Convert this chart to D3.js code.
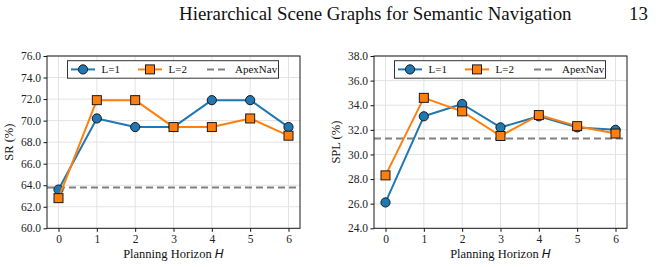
<!DOCTYPE html>
<html>
<head>
<meta charset="utf-8">
<script src="https://cdn.jsdelivr.net/npm/d3@7"></script>
<style>
  body { margin: 0; background: white; }
  svg { display: block; }
</style>
</head>
<body>
<div id="chart"></div>
<script>
// data
var horizons = [0, 1, 2, 3, 4, 5, 6]

var srL1 = [63.6, 70.2, 69.4, 69.4, 71.9, 71.9, 69.4]
var srL2 = [62.8, 71.9, 71.9, 69.4, 69.4, 70.2, 68.6]
var srApexNav = 63.8
var srTicks = [60, 62, 64, 66, 68, 70, 72, 74, 76]

var splL1 = [26.1, 33.1, 34.1, 32.2, 33.1, 32.2, 32.0]
var splL2 = [28.3, 34.6, 33.5, 31.5, 33.2, 32.3, 31.7]
var splApexNav = 31.3
var splTicks = [24, 26, 28, 30, 32, 34, 36, 38]

var legendLabels = ['L=1', 'L=2', 'ApexNav']
var headerText = 'Hierarchical Scene Graphs for Semantic Navigation'
var pageNumber = '13'

var blue = '#1f77b4'
var orange = '#ff7f0e'
var grey = '#808080'
var serif = '"Liberation Serif", "Times New Roman", Times, serif'

var svg = d3.select('#chart').append('svg')
  .attr('width', 667)
  .attr('height', 267)
  .attr('font-family', serif)
  .style('font-family', serif)

// running header, sized so it spans the same width as the original
var header = svg.append('text')
  .attr('x', 179)
  .attr('y', 20)
  .style('font-family', serif)
  .style('font-size', '17px')
  .style('fill', '#111')
  .text(headerText)

var hw = header.node().getComputedTextLength()
var hSize = 17 * 393 / hw
header.style('font-size', hSize + 'px')

svg.append('text')
  .attr('x', 629)
  .attr('y', 20)
  .style('font-family', serif)
  .style('font-size', hSize + 'px')
  .style('fill', '#111')
  .text(pageNumber)

function drawPanel(opts) {
  var g = svg.append('g')
  var x0 = opts.left, x1 = opts.left + 253
  var y0 = 56, y1 = 228.3

  var xMap = d3.scaleLinear().domain([-0.3, 6.3]).range([x0, x1])
  var yMap = d3.scaleLinear().domain(opts.domain).range([y1, y0])

  // grid
  g.append('g').selectAll('line').data(horizons).enter().append('line')
    .attr('x1', d => xMap(d)).attr('x2', d => xMap(d))
    .attr('y1', y0).attr('y2', y1)
    .style('stroke', '#e3e3e3').style('stroke-width', 1)

  g.append('g').selectAll('line').data(opts.ticks).enter().append('line')
    .attr('x1', x0).attr('x2', x1)
    .attr('y1', d => yMap(d)).attr('y2', d => yMap(d))
    .style('stroke', '#e3e3e3').style('stroke-width', 1)

  // baseline method
  g.append('line')
    .attr('x1', x0).attr('x2', x1)
    .attr('y1', yMap(opts.apex)).attr('y2', yMap(opts.apex))
    .style('stroke', grey)
    .style('stroke-width', 2)
    .style('stroke-dasharray', '7,4')

  var line = d3.line()
    .x((d, i) => xMap(horizons[i]))
    .y(d => yMap(d))

  // L=1
  g.append('path')
    .datum(opts.l1)
    .attr('d', line)
    .style('fill', 'none')
    .style('stroke', blue)
    .style('stroke-width', 2)
    .style('stroke-linejoin', 'round')

  g.selectAll('.c1').data(opts.l1).enter().append('circle')
    .attr('cx', (d, i) => xMap(horizons[i]))
    .attr('cy', d => yMap(d))
    .attr('r', 4.6)
    .style('fill', blue)
    .style('stroke', '#1a1a1a')
    .style('stroke-width', 1)

  // L=2
  g.append('path')
    .datum(opts.l2)
    .attr('d', line)
    .style('fill', 'none')
    .style('stroke', orange)
    .style('stroke-width', 2)
    .style('stroke-linejoin', 'round')

  g.selectAll('.s2').data(opts.l2).enter().append('rect')
    .attr('x', (d, i) => xMap(horizons[i]) - 4.5)
    .attr('y', d => yMap(d) - 4.5)
    .attr('width', 9)
    .attr('height', 9)
    .style('fill', orange)
    .style('stroke', '#1a1a1a')
    .style('stroke-width', 1)

  // axes
  var xAxis = d3.axisBottom(xMap)
    .tickValues(horizons)
    .tickFormat(d3.format('d'))
    .tickSize(3.5)
    .tickPadding(3)
    .tickSizeOuter(0)

  var yAxis = d3.axisLeft(yMap)
    .tickValues(opts.ticks)
    .tickFormat(d3.format('.1f'))
    .tickSize(3.5)
    .tickPadding(2.5)
    .tickSizeOuter(0)

  var gx = g.append('g')
    .attr('transform', 'translate(0,' + y1 + ')')
    .call(xAxis)
  var gy = g.append('g')
    .attr('transform', 'translate(' + x0 + ',0)')
    .call(yAxis)

  ;[gx, gy].forEach(a => {
    a.attr('font-family', serif).attr('font-size', null)
    a.select('.domain').remove()
    a.selectAll('line').style('stroke', '#111')
    a.selectAll('text')
      .style('font-family', serif)
      .style('font-size', '11.5px')
      .style('fill', '#222')
  })

  // frame
  g.append('rect')
    .attr('x', x0).attr('y', y0)
    .attr('width', x1 - x0).attr('height', y1 - y0)
    .style('fill', 'none')
    .style('stroke', '#1a1a1a')
    .style('stroke-width', 1)

  // axis titles
  var xt = g.append('text')
    .attr('x', (x0 + x1) / 2)
    .attr('y', 258)
    .style('text-anchor', 'middle')
    .style('font-family', serif)
    .style('font-size', '12.5px')
    .style('fill', '#111')
  xt.append('tspan').text('Planning Horizon ')
  xt.append('tspan')
    .style('font-family', '"DejaVu Sans", sans-serif')
    .style('font-style', 'oblique')
    .style('font-size', '12px')
    .text('H')

  g.append('text')
    .attr('transform', 'translate(' + (x0 - 34) + ',' + ((y0 + y1) / 2) + ') rotate(-90)')
    .style('text-anchor', 'middle')
    .style('font-family', serif)
    .style('font-size', '12.5px')
    .style('fill', '#111')
    .text(opts.yLabel)

  // legend
  var lx = x0 + 20.5, ly = 60.7
  var gl = g.append('g').attr('transform', 'translate(' + [lx, ly] + ')')
  gl.append('rect')
    .attr('width', 211)
    .attr('height', 17.5)
    .style('fill', 'white')
    .style('stroke', '#333')
    .style('stroke-width', 1)

  var cy = 8.7
  var entryX = [3.5, 70.5, 139.5]
  var colors = [blue, orange, grey]

  legendLabels.forEach((lab, i) => {
    var ex = entryX[i]
    gl.append('line')
      .attr('x1', ex).attr('x2', ex + (i == 2 ? 20 : 24))
      .attr('y1', cy).attr('y2', cy)
      .style('stroke', colors[i])
      .style('stroke-width', 2)
      .style('stroke-dasharray', i == 2 ? '7,4' : null)
    if (i == 0) {
      gl.append('circle')
        .attr('cx', ex + 12).attr('cy', cy).attr('r', 4.6)
        .style('fill', blue).style('stroke', '#1a1a1a').style('stroke-width', 1)
    } else if (i == 1) {
      gl.append('rect')
        .attr('x', ex + 12 - 4.5).attr('y', cy - 4.5)
        .attr('width', 9).attr('height', 9)
        .style('fill', orange).style('stroke', '#1a1a1a').style('stroke-width', 1)
    }
    gl.append('text')
      .attr('x', ex + (i == 2 ? 28 : 30.5))
      .attr('y', cy + 3.8)
      .style('font-family', serif)
      .style('font-size', '11px')
      .style('fill', '#111')
      .text(lab)
  })
}

drawPanel({ left: 47, domain: [60, 76], ticks: srTicks, l1: srL1, l2: srL2, apex: srApexNav, yLabel: 'SR (%)' })
drawPanel({ left: 374, domain: [24, 38], ticks: splTicks, l1: splL1, l2: splL2, apex: splApexNav, yLabel: 'SPL (%)' })
</script>
</body>
</html>
